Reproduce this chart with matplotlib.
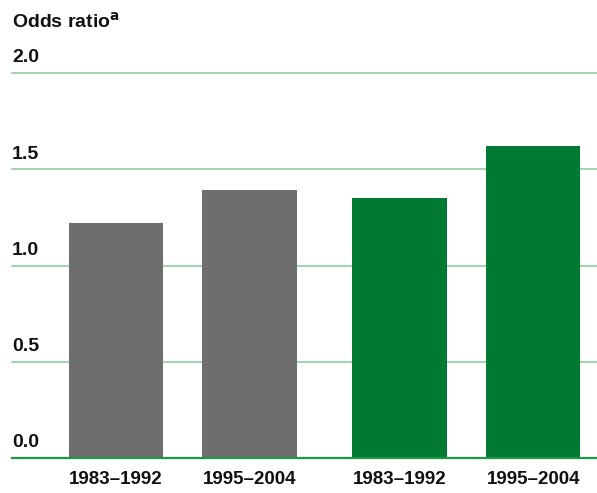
import matplotlib.pyplot as plt

# odds ratio by period, two groups (grey, green)
periods = ['1983–1992', '1995–2004', '1983–1992', '1995–2004']
odds = [1.22, 1.39, 1.35, 1.62]
bar_colors = ['#6e6e6e', '#6e6e6e', '#007a33', '#007a33']
xpos = [0, 1, 2.13, 3.13]
yticks = [0.0, 0.5, 1.0, 1.5, 2.0]

plt.rcParams['font.family'] = ['Liberation Sans', 'DejaVu Sans']

fig = plt.figure(figsize=(5.97, 4.93), dpi=100)
ax = fig.add_axes([12 / 597, 35 / 493, 585 / 597, 385 / 493])

ax.bar(xpos, odds, width=0.71, color=bar_colors, zorder=2)

# gridlines behind bars
for t in yticks[1:]:
    ax.axhline(t, color='#8ccfa2', linewidth=1.2, zorder=1, clip_on=False)
for t in yticks:
    ax.text(0, t + 0.035, f'{t:.1f}', transform=ax.get_yaxis_transform(),
            ha='left', va='bottom', fontsize=14, fontweight='bold', color='#111111')
ax.axhline(0, color='#1a9a45', linewidth=1.6, zorder=3, clip_on=False)

ax.set_xlim(-0.779, 3.609)
ax.set_ylim(0, 2.0)
ax.set_yticks([])
ax.set_xticks(xpos)
ax.set_xticklabels(periods, fontsize=13.5, fontweight='bold', color='#111111')
ax.tick_params(axis='x', length=0, pad=9)
for s in ax.spines.values():
    s.set_visible(False)

fig.text(12 / 597, 1 - 22 / 493, r'Odds ratio$^{\mathbf{a}}$', ha='left', va='center',
         fontsize=14, fontweight='bold', color='#111111')

fig.savefig('out.png', dpi=100)
